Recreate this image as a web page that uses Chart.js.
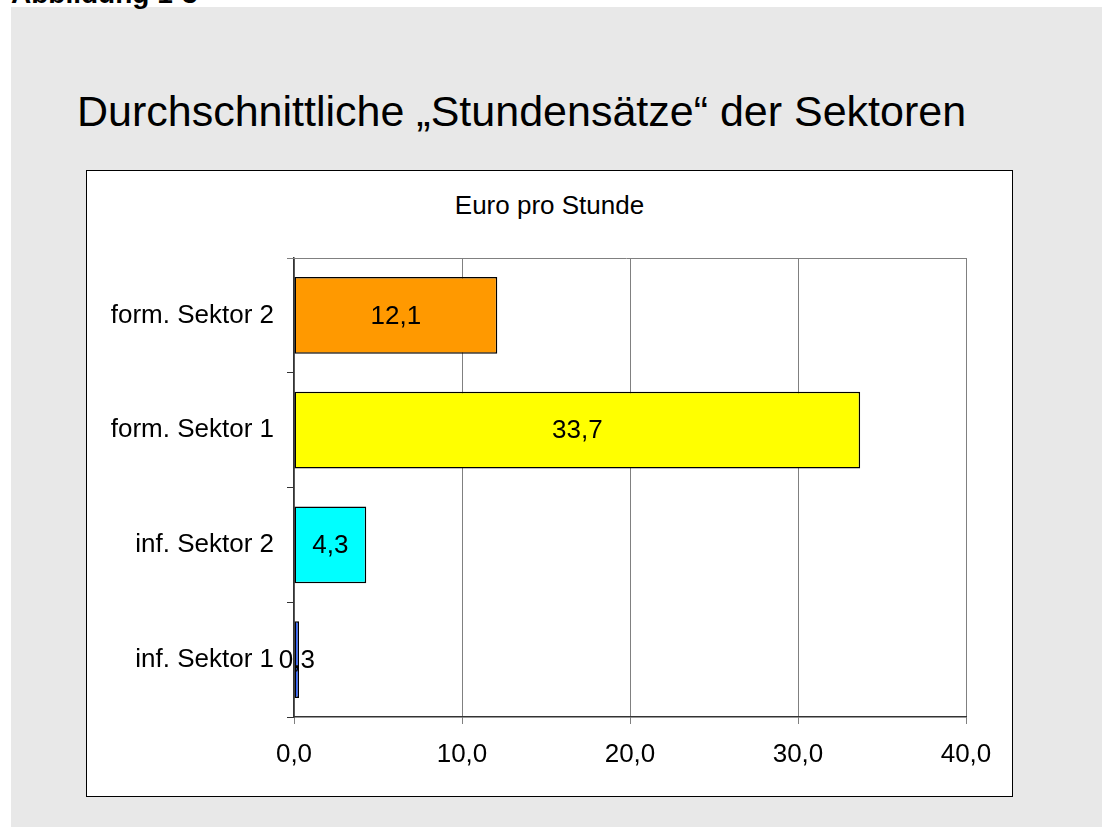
<!DOCTYPE html>
<html>
<head>
<meta charset="utf-8">
<script src="https://cdn.jsdelivr.net/npm/chart.js@4.4.1/dist/chart.umd.min.js"></script>
<style>
  html, body { margin: 0; padding: 0; background: #ffffff; width: 1102px; height: 827px; overflow: hidden; position: relative; font-family: "Liberation Sans", Arial, sans-serif; }
  #panel { position: absolute; left: 11px; top: 7px; right: 0; bottom: 0; background: #e8e8e8; }
  #abb { position: absolute; left: 11px; top: -20px; font-size: 28px; line-height: 28px; font-weight: bold; color: #000; white-space: nowrap; }
  #title { position: absolute; left: 77px; top: 90px; font-size: 43px; line-height: 43px; color: #000; white-space: nowrap; }
  #box { position: absolute; left: 86px; top: 170px; width: 925px; height: 625px; background: #fff; border: 1px solid #000; }
  #sub { position: absolute; left: 86px; width: 927px; top: 192px; text-align: center; font-size: 26px; line-height: 26px; color: #000; white-space: nowrap; }
  #wrap { position: absolute; left: 0; top: 0; width: 1102px; height: 827px; }
</style>
</head>
<body>
<div id="panel"></div>
<div id="abb">Abbildung 1-3</div>
<div id="title">Durchschnittliche „Stundensätze“ der Sektoren</div>
<div id="box"></div>
<div id="sub">Euro pro Stunde</div>
<div id="wrap"><canvas id="c" width="1102" height="827"></canvas></div>
<script>
const categories = ['form. Sektor 2', 'form. Sektor 1', 'inf. Sektor 2', 'inf. Sektor 1'];
const values = [12.1, 33.7, 4.3, 0.3];
const barColors = ['#FF9900', '#FFFF00', '#00FFFF', '#3366FF'];
const xTicks = [0, 10, 20, 30, 40];

const FONT = '"Liberation Sans", Arial, sans-serif';
const fmt = v => Number(v).toFixed(1).replace('.', ',');

const valueLabels = {
  id: 'valueLabels',
  afterDatasetsDraw(chart) {
    const ctx = chart.ctx;
    const meta = chart.getDatasetMeta(0);
    ctx.save();
    ctx.font = '26px ' + FONT;
    ctx.fillStyle = '#000';
    ctx.textAlign = 'center';
    ctx.textBaseline = 'middle';
    meta.data.forEach((bar, i) => {
      const p = bar.getProps(['x', 'y', 'base'], true);
      ctx.fillText(fmt(chart.data.datasets[0].data[i]), (p.x + p.base) / 2, p.y + 1);
    });
    ctx.restore();
  }
};

const topLine = {
  id: 'topLine',
  beforeDatasetsDraw(chart) {
    const a = chart.chartArea, ctx = chart.ctx;
    ctx.save();
    ctx.strokeStyle = '#808080';
    ctx.lineWidth = 1;
    ctx.beginPath();
    ctx.moveTo(a.left - 7, Math.round(a.top) + 0.5);
    ctx.lineTo(a.right, Math.round(a.top) + 0.5);
    ctx.stroke();
    ctx.restore();
  }
};

new Chart(document.getElementById('c'), {
  type: 'bar',
  data: {
    labels: categories,
    datasets: [{
      data: values,
      backgroundColor: barColors,
      borderColor: '#000',
      borderWidth: 1.5,
      borderSkipped: false,
      categoryPercentage: 1.0,
      barPercentage: 0.67
    }]
  },
  options: {
    indexAxis: 'y',
    responsive: false,
    animation: false,
    devicePixelRatio: 1,
    layout: { padding: { left: 100, right: 136, top: 258, bottom: 60 } },
    plugins: { legend: { display: false }, tooltip: { enabled: false }, title: { display: false } },
    scales: {
      x: {
        min: 0, max: 40,
        afterBuildTicks: s => { s.ticks = xTicks.map(v => ({ value: v })); },
        afterFit: s => { s.height = 50; },
        grid: { color: '#808080', lineWidth: 1, tickLength: 7, drawOnChartArea: true },
        border: { color: '#333', width: 1.5 },
        ticks: { color: '#000', font: { family: FONT, size: 26 }, padding: 15, callback: v => fmt(v), maxRotation: 0 }
      },
      y: {
        afterFit: s => { s.width = 194; },
        grid: { offset: true, drawOnChartArea: false, tickLength: 7, color: '#333', lineWidth: 1 },
        border: { color: '#333', width: 1.5 },
        ticks: { color: '#000', font: { family: FONT, size: 26 }, padding: 13 }
      }
    }
  },
  plugins: [topLine, valueLabels]
});
</script>
</body>
</html>
